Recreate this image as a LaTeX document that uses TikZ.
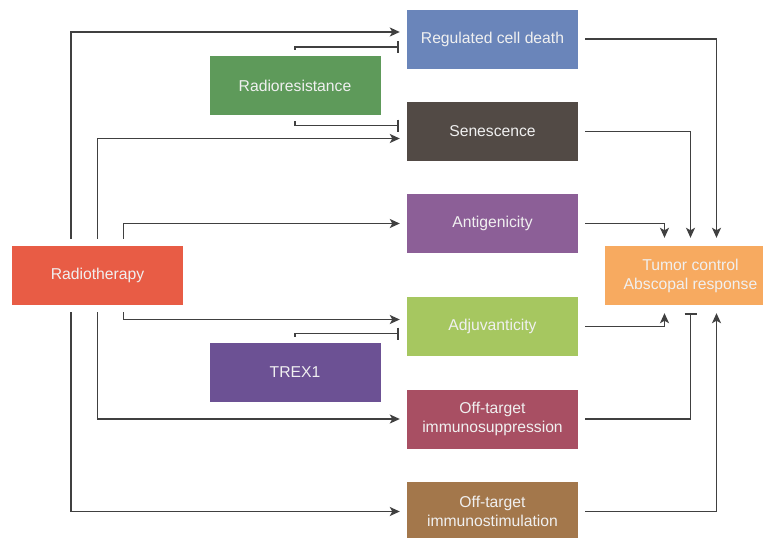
\documentclass[tikz,border=0pt]{standalone}
\usepackage{fontspec}
\setmainfont{Liberation Sans}
\usetikzlibrary{arrows.meta, positioning}

\definecolor{rcdblue}{RGB}{106,133,186}
\definecolor{resgreen}{RGB}{94,154,90}
\definecolor{sengrey}{RGB}{82,74,69}
\definecolor{antpurple}{RGB}{140,95,151}
\definecolor{radred}{RGB}{232,92,69}
\definecolor{adjgreen}{RGB}{166,199,96}
\definecolor{trexpurple}{RGB}{108,81,148}
\definecolor{suppred}{RGB}{168,79,99}
\definecolor{stimbrown}{RGB}{163,119,75}
\definecolor{tumororange}{RGB}{247,170,96}
\definecolor{linegrey}{RGB}{64,64,64}

\tikzset{
    box/.style={rectangle, minimum width=171pt, minimum height=59pt, inner sep=0pt,
        text=white!94!black, align=center, font=\fontsize{15.7}{19}\selectfont},
    act/.style={draw=linegrey, line width=1.5pt,
        -{Stealth[length=10pt, width=9pt, inset=2.5pt]}},
    inh/.style={draw=linegrey, line width=1.5pt, -{Bar[width=12pt]}}
}

\begin{document}
\begin{tikzpicture}[x=1pt, y=-1pt]
            \useasboundingbox[fill=white] (0,0) rectangle (763,538);

            \node[box, fill=radred] (rt) at (97.5,275.5) {Radiotherapy};
            \node[box, fill=resgreen] (rr) at (295,85.5) {Radioresistance};
            \node[box, fill=trexpurple] (trex) at (295,372.5) {TREX1};

            \node[box, fill=rcdblue] (rcd) at (492.5,39) {Regulated cell death};
            \node[box, fill=sengrey] (sen) at (492.5,131.5) {Senescence};
            \node[box, fill=antpurple] (ant) at (492.5,223.5) {Antigenicity};
            \node[box, fill=adjgreen] (adj) at (492.5,326.5) {Adjuvanticity};
            \node[box, fill=suppred] (supp) at (492.5,419) {Off-target\\immunosuppression};
            \node[box, fill=stimbrown] (stim) at (492.5,511.5) {Off-target\\immunostimulation};

            \node[box, fill=tumororange] (tc) at (690.5,275.5) {Tumor control\\Abscopal response};

            % radiotherapy to the effects
            \draw[act] ([xshift=-26.5pt,yshift=7pt]rt.north) |- ([xshift=-7pt,yshift=7pt]rcd.west);
            \draw[act] ([yshift=7pt]rt.north) |- ([xshift=-7pt,yshift=-7pt]sen.west);
            \draw[act] ([xshift=26pt,yshift=7pt]rt.north) |- ([xshift=-7pt]ant.west);
            \draw[act] ([xshift=26pt,yshift=-7pt]rt.south) |- ([xshift=-7pt,yshift=7pt]adj.west);
            \draw[act] ([yshift=-7pt]rt.south) |- ([xshift=-7pt]supp.west);
            \draw[act] ([xshift=-26.5pt,yshift=-7pt]rt.south) |- ([xshift=-7pt]stim.west);

            % inhibitors
            \draw[inh] ([yshift=6pt]rr.north) |- ([xshift=-8pt,yshift=-8pt]rcd.west);
            \draw[inh] ([yshift=-6pt]rr.south) |- ([xshift=-8pt,yshift=6pt]sen.west);
            \draw[inh] ([yshift=6pt]trex.north) |- ([xshift=-8pt,yshift=-7pt]adj.west);

            % effects to tumor control
            \draw[act] ([xshift=7pt]rcd.east) -| ([xshift=26pt,yshift=8pt]tc.north);
            \draw[act] ([xshift=7pt]sen.east) -| ([yshift=8pt]tc.north);
            \draw[act] ([xshift=7pt]ant.east) -| ([xshift=-26pt,yshift=8pt]tc.north);
            \draw[act] ([xshift=7pt]adj.east) -| ([xshift=-26pt,yshift=-8pt]tc.south);
            \draw[inh] ([xshift=7pt]supp.east) -| ([yshift=-8pt]tc.south);
            \draw[act] ([xshift=7pt]stim.east) -| ([xshift=26pt,yshift=-8pt]tc.south);
        \end{tikzpicture}
\end{document}
